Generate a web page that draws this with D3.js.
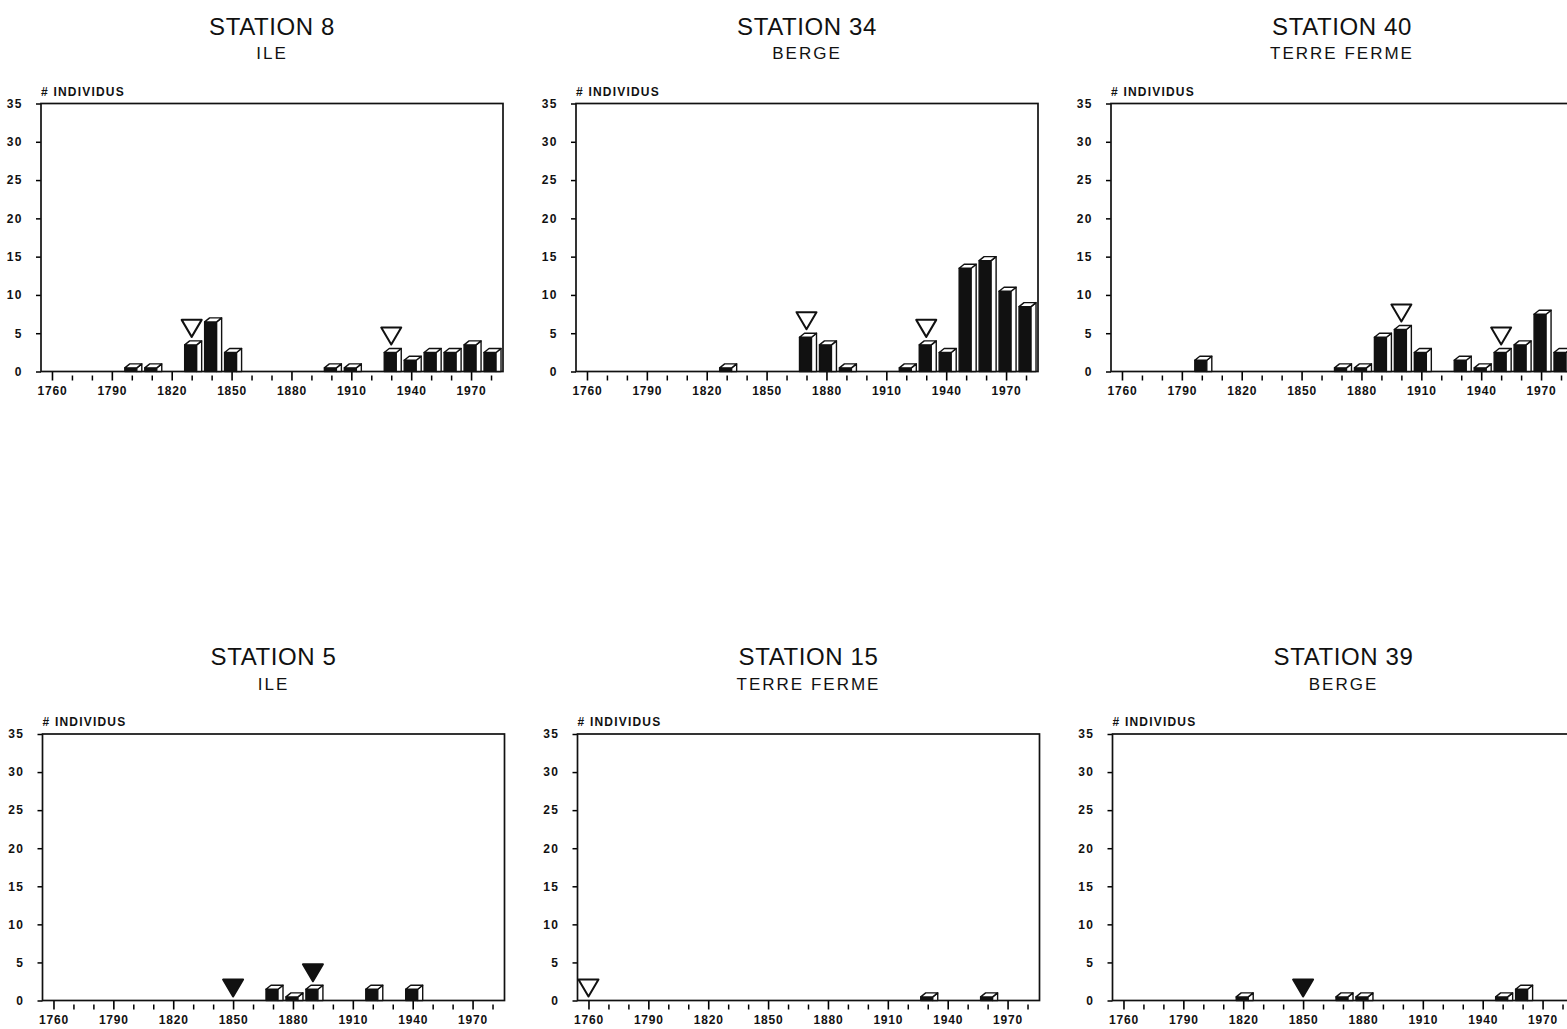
<!DOCTYPE html>
<html>
<head>
<meta charset="utf-8">
<script src="https://cdn.jsdelivr.net/npm/d3@7"></script>
<style>
  body { margin: 0; background: #fff; }
  svg text { font-family: "Liberation Sans", Arial, sans-serif; fill: #111; }
</style>
</head>
<body>
<div id="chart"></div>
<script>
// decades on the x axis
var decades = [1760, 1770, 1780, 1790, 1800, 1810, 1820, 1830, 1840, 1850, 1860, 1870,
               1880, 1890, 1900, 1910, 1920, 1930, 1940, 1950, 1960, 1970, 1980];
var yearLabels = [1760, 1790, 1820, 1850, 1880, 1910, 1940, 1970];
var countTicks = [0, 5, 10, 15, 20, 25, 30, 35];

var titles = ["STATION 8", "STATION 34", "STATION 40", "STATION 5", "STATION 15", "STATION 39"];
var subtitles = ["ILE", "BERGE", "TERRE FERME", "ILE", "TERRE FERME", "BERGE"];

// number of individuals per decade
var station8  = [0, 0, 0, 0, 1, 1, 0, 4, 7, 3, 0, 0, 0, 0, 1, 1, 0, 3, 2, 3, 3, 4, 3];
var station34 = [0, 0, 0, 0, 0, 0, 0, 1, 0, 0, 0, 5, 4, 1, 0, 0, 1, 4, 3, 14, 15, 11, 9];
var station40 = [0, 0, 0, 0, 2, 0, 0, 0, 0, 0, 0, 1, 1, 5, 6, 3, 0, 2, 1, 3, 4, 8, 3];
var station5  = [0, 0, 0, 0, 0, 0, 0, 0, 0, 0, 0, 2, 1, 2, 0, 0, 2, 0, 2, 0, 0, 0, 0];
var station15 = [0, 0, 0, 0, 0, 0, 0, 0, 0, 0, 0, 0, 0, 0, 0, 0, 0, 1, 0, 0, 1, 0, 0];
var station39 = [0, 0, 0, 0, 0, 0, 1, 0, 0, 0, 0, 1, 1, 0, 0, 0, 0, 0, 0, 1, 2, 0, 0];

// triangle markers (open / filled)
var marks8  = [{year: 1830, kind: "open"}, {year: 1930, kind: "open"}];
var marks34 = [{year: 1870, kind: "open"}, {year: 1930, kind: "open"}];
var marks40 = [{year: 1900, kind: "open"}, {year: 1950, kind: "open"}];
var marks5  = [{year: 1850, kind: "filled"}, {year: 1890, kind: "filled"}];
var marks15 = [{year: 1760, kind: "open"}];
var marks39 = [{year: 1850, kind: "filled"}];

var seriesList = [station8, station34, station40, station5, station15, station39];
var marksList = [marks8, marks34, marks40, marks5, marks15, marks39];

const W = 1567, H = 1029;
const pw = 462;
const font = "Liberation Sans, Arial, sans-serif";

var svg = d3.select("#chart")
  .append("svg")
  .attr("width", W)
  .attr("height", H);

var x = d3.scaleLinear().domain([1754.5, 1986]).range([0, pw]);

// bar box: front width, depth offsets
const bw = 12, dx = 5, dy = 4;

titles.forEach(function(title, i) {
  var col = i % 3, row = Math.floor(i / 3);
  var left = 41 + col * 535 + row * 1.5, top = 103.5 + row * 630.5;
  var ph = row === 0 ? 268 : 266.5;
  var y = d3.scaleLinear().domain([0, 35]).range([ph, 0]);
  var values = seriesList[i];

  svg.append("text")
    .attr("x", left + pw / 2)
    .attr("y", top - 69)
    .attr("text-anchor", "middle")
    .style("font-size", "24px")
    .style("letter-spacing", "0.6px")
    .text(title);

  svg.append("text")
    .attr("x", left + pw / 2)
    .attr("y", top - 44.5)
    .attr("text-anchor", "middle")
    .style("font-size", "17px")
    .style("letter-spacing", "2px")
    .text(subtitles[i]);

  var g = svg.append("g")
    .attr("transform", "translate(" + left + "," + top + ")");

  g.append("text")
    .attr("x", 0)
    .attr("y", -8)
    .style("font-size", "12px")
    .style("font-weight", "bold")
    .style("letter-spacing", "1.2px")
    .text("# INDIVIDUS");

  // y axis
  g.append("g")
    .attr("class", "axis-y")
    .call(d3.axisLeft(y).tickValues(countTicks).tickSize(5).tickPadding(13))
    .attr("font-family", font)
    .attr("font-size", 12)
    .attr("font-weight", "bold")
    .call(function(a) {
      a.select(".domain").remove();
      a.selectAll(".tick line").attr("stroke-width", 1.5);
      a.selectAll(".tick text").style("letter-spacing", "1.5px");
    });

  // minor x ticks
  g.append("g")
    .attr("transform", "translate(0," + ph + ")")
    .call(d3.axisBottom(x)
      .tickValues(decades.filter(function(d) { return yearLabels.indexOf(d) < 0; }))
      .tickSize(9)
      .tickFormat(""))
    .call(function(a) {
      a.select(".domain").remove();
      a.selectAll(".tick line").attr("y1", 4).attr("stroke-width", 1.5);
    });

  // major x ticks with labels
  g.append("g")
    .attr("class", "axis-x")
    .attr("transform", "translate(0," + ph + ")")
    .call(d3.axisBottom(x).tickValues(yearLabels).tickSize(9).tickPadding(6).tickFormat(d3.format("d")))
    .attr("font-family", font)
    .attr("font-size", 12)
    .attr("font-weight", "bold")
    .call(function(a) {
      a.select(".domain").remove();
      a.selectAll(".tick line").attr("stroke-width", 1.6);
      a.selectAll(".tick text").style("letter-spacing", "0.8px");
    });

  // frame
  g.append("rect")
    .attr("width", pw)
    .attr("height", ph)
    .attr("fill", "none")
    .attr("stroke", "#111")
    .attr("stroke-width", 1.7);

  // 3D bars
  var data = decades.map(function(d, j) { return {year: d, v: values[j]}; })
    .filter(function(d) { return d.v > 0; });

  var bars = g.selectAll(".bar")
    .data(data)
    .enter()
    .append("g")
    .attr("class", "bar")
    .attr("stroke", "#111")
    .attr("stroke-width", 1.4)
    .attr("stroke-linejoin", "round");

  bars.append("rect")
    .attr("x", function(d) { return x(d.year) - 7; })
    .attr("y", function(d) { return y(d.v) + dy; })
    .attr("width", bw)
    .attr("height", function(d) { return y(0) - y(d.v) - dy; })
    .attr("fill", "#111");

  bars.append("path")
    .attr("fill", "#fff")
    .attr("d", function(d) {
      var fx = x(d.year) - 7, t = y(d.v);
      return "M" + (fx + bw) + "," + (t + dy) + "L" + (fx + bw + dx) + "," + t +
             "L" + (fx + bw + dx) + "," + y(0) + "L" + (fx + bw) + "," + y(0) + "Z";
    });

  bars.append("path")
    .attr("fill", "#fff")
    .attr("d", function(d) {
      var fx = x(d.year) - 7, t = y(d.v);
      return "M" + fx + "," + (t + dy) + "L" + (fx + dx) + "," + t +
             "L" + (fx + bw + dx) + "," + t + "L" + (fx + bw) + "," + (t + dy) + "Z";
    });

  // triangles
  g.selectAll(".mark")
    .data(marksList[i])
    .enter()
    .append("path")
    .attr("class", "mark")
    .attr("fill", function(d) { return d.kind === "filled" ? "#111" : "#fff"; })
    .attr("stroke", "#111")
    .attr("stroke-width", 2)
    .attr("stroke-linejoin", "round")
    .attr("d", function(d) {
      var cx = x(d.year);
      var v = values[decades.indexOf(d.year)];
      var apex = y(v) - 4;
      return "M" + (cx - 10) + "," + (apex - 17) + "L" + (cx + 10) + "," + (apex - 17) +
             "L" + cx + "," + apex + "Z";
    });
});
</script>
</body>
</html>
